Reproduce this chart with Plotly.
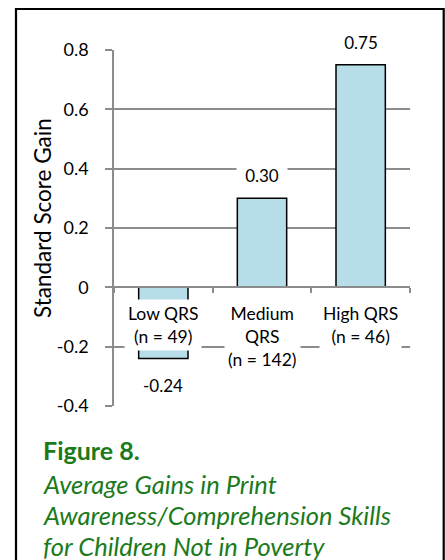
import plotly.graph_objects as go

categories = ["Low QRS<br>(n = 49)", "Medium<br>QRS<br>(n = 142)", "High QRS<br>(n = 46)"]
gains = [-0.24, 0.30, 0.75]
tick_vals = [-0.4, -0.2, 0, 0.2, 0.4, 0.6, 0.8]
tick_text = ["-0.4", "-0.2", "0", "0.2", "0.4", "0.6", "0.8"]
y_title = "Standard Score Gain"
caption_head = "Figure 8."
caption_lines = ["Average Gains in Print", "Awareness/Comprehension Skills", "for Children Not in Poverty"]

FONT = "Lato, Calibri, Carlito, sans-serif"
GREEN = "#1b7a1b"
GRID = "#8c8c8c"

# plot-area pixel geometry
L, R, T, B = 114, 410, 50, 406
W, H = R - L, B - T


def px_x(x):
    return (x - L) / W


def px_y(y):
    return (B - y) / H


x_keys = ["Low", "Medium", "High"]

fig = go.Figure()
fig.add_trace(go.Bar(
    x=x_keys, y=gains,
    marker=dict(color="#b7dde8", line=dict(color="black", width=1.5)),
    hoverinfo="skip",
))

annotations = []
# data labels
for k, v in zip(x_keys, gains):
    annotations.append(dict(
        x=k, y=v, xref="x", yref="y", text=f"{v:.2f}", showarrow=False,
        yanchor="bottom" if v >= 0 else "top", yshift=10 if v >= 0 else -14,
        bgcolor="white", width=48, font=dict(family=FONT, size=17, color="black"),
    ))
# category labels
for k, c in zip(x_keys, categories):
    annotations.append(dict(
        x=k, y=0, xref="x", yref="y", text=c, showarrow=False,
        yanchor="top", yshift=-12, bgcolor="white", borderpad=3,
        font=dict(family=FONT, size=17.5, color="black"),
    ))
# y title
annotations.append(dict(
    x=px_x(42), y=px_y(218), xref="paper", yref="paper", text=y_title,
    textangle=-90, showarrow=False, xanchor="center", yanchor="middle",
    font=dict(family=FONT, size=22.5, color="black"),
))
# caption
annotations.append(dict(
    x=px_x(41), y=px_y(450), xref="paper", yref="paper", text=f"<b>{caption_head}</b>",
    showarrow=False, xanchor="left", yanchor="middle",
    font=dict(family=FONT, size=25, color=GREEN),
))
for i, line in enumerate(caption_lines):
    annotations.append(dict(
        x=px_x(41), y=px_y(484 + 31 * i), xref="paper", yref="paper", text=f"<i>{line}</i>",
        showarrow=False, xanchor="left", yanchor="middle",
        font=dict(family=FONT, size=25.5, color=GREEN),
    ))

fig.update_layout(
    width=445, height=560,
    margin=dict(l=L, r=445 - R, t=T, b=560 - B),
    paper_bgcolor="white", plot_bgcolor="white",
    bargap=0.5, showlegend=False,
    annotations=annotations,
    shapes=[dict(
        type="rect", xref="paper", yref="paper",
        x0=px_x(16), x1=px_x(443.7), y0=px_y(575), y1=px_y(9),
        line=dict(color="black", width=2.2), fillcolor="rgba(0,0,0,0)", layer="above",
    )],
    xaxis=dict(
        type="category", range=[-0.5, 2.5], anchor="free", position=0.4 / 1.2,
        showline=True, linecolor=GRID, linewidth=1.5, showgrid=False,
        ticks="outside", tickson="boundaries", ticklen=5, tickcolor=GRID, tickwidth=1.5,
        showticklabels=False, zeroline=False, fixedrange=True,
    ),
    yaxis=dict(
        range=[-0.4, 0.8], tickvals=tick_vals, ticktext=tick_text,
        showgrid=True, gridcolor=GRID, gridwidth=1.5, zeroline=False,
        showline=True, linecolor=GRID, linewidth=1.5,
        ticks="outside", ticklen=7, tickcolor=GRID, tickwidth=1.5,
        ticklabelstandoff=13,
        tickfont=dict(family=FONT, size=18, color="black"), fixedrange=True,
    ),
)

fig.write_html(
    "out.html",
    config={"displayModeBar": False},
    post_script="document.body.style.margin='0';document.body.style.overflow='hidden';",
)
